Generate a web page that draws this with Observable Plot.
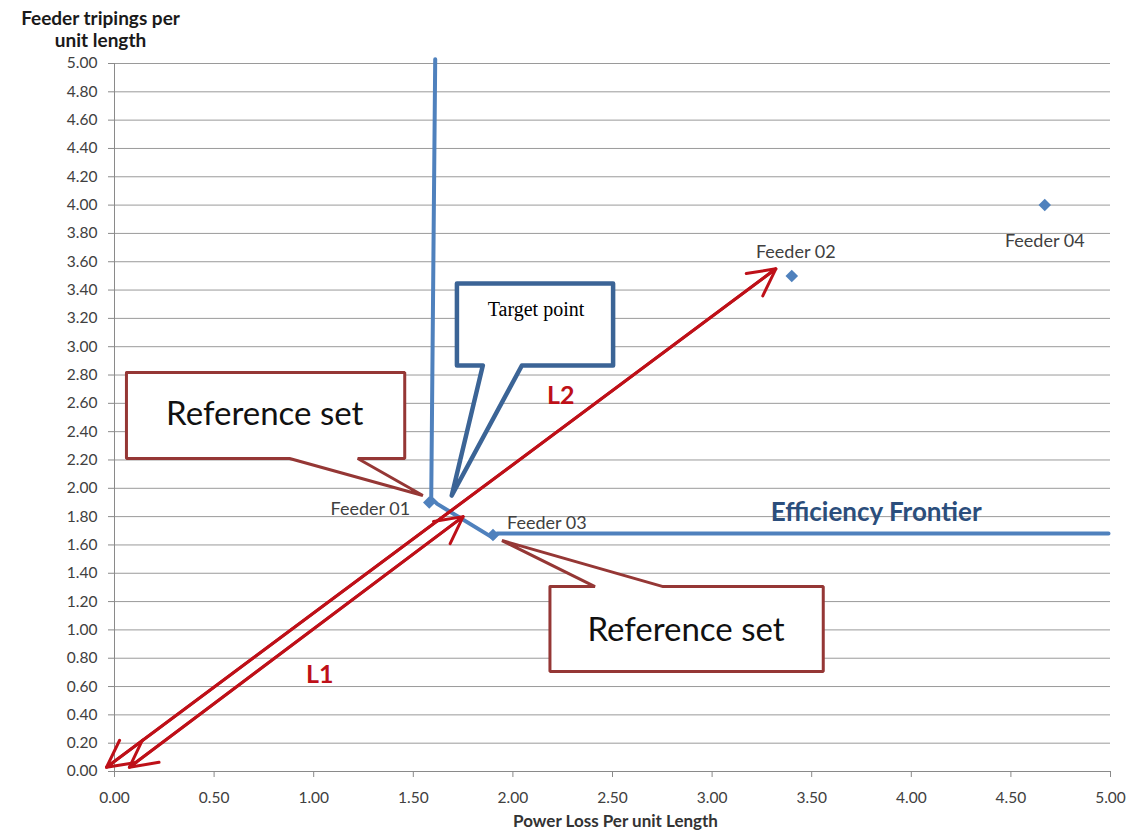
<!DOCTYPE html>
<html>
<head>
<meta charset="utf-8">
<script src="https://cdn.jsdelivr.net/npm/d3@7"></script>
<script src="https://cdn.jsdelivr.net/npm/@observablehq/plot@0.6"></script>
<style>
  html, body { margin: 0; padding: 0; background: #fff; }
  svg { display: block; }
</style>
</head>
<body>
<div id="chart"></div>
<script>
// ---- data ----
const feederNames = ["Feeder 01", "Feeder 02", "Feeder 03", "Feeder 04"];
const feederLoss = [1.58, 3.40, 1.90, 4.67];
const feederTrips = [1.90, 3.50, 1.67, 4.00];

const frontierLoss = [1.61, 1.59, 1.62, 1.90, 1.92, 4.99];
const frontierTrips = [5.03, 1.93, 1.89, 1.65, 1.68, 1.68];

// arrows L1 and L2 (double-headed)
const arrowNames = ["L1", "L2"];
const arrowStartX = [0.075, -0.04];
const arrowStartY = [0.03, 0.03];
const arrowEndX = [1.75, 3.32];
const arrowEndY = [1.80, 3.55];
const arrowLabelX = [1.03, 2.24];
const arrowLabelY = [0.68, 2.65];

// callout outlines (data coordinates)
const calloutTargetX = [1.719, 2.503, 2.503, 2.045, 1.693, 1.849, 1.719, 1.719];
const calloutTargetY = [3.446, 3.446, 2.867, 2.867, 1.949, 2.867, 2.867, 3.446];
const calloutRef1X = [0.060, 1.457, 1.457, 1.221, 1.548, 0.879, 0.060, 0.060];
const calloutRef1Y = [2.818, 2.818, 2.210, 2.210, 1.949, 2.210, 2.210, 2.818];
const calloutRef2X = [2.186, 2.412, 1.945, 2.754, 3.558, 3.558, 2.186, 2.186];
const calloutRef2Y = [1.306, 1.306, 1.631, 1.306, 1.306, 0.706, 0.706, 1.306];

const calloutText = ["Target point", "Reference set", "Reference set"];
const calloutTextX = [2.116, 0.754, 2.869];
const calloutTextY = [3.263, 2.521, 0.996];

const frontierLabel = "Efficiency Frontier";
const frontierLabelX = 3.824;
const frontierLabelY = 1.83;

const yTicks = d3.range(0, 26).map(i => +(i * 0.2).toFixed(2));
const xTicks = d3.range(0, 11).map(i => +(i * 0.5).toFixed(2));

const xTitle = "Power Loss Per unit Length";
const yTitle = "Feeder tripings per\nunit length";

// ---- build tables ----
const feeders = feederNames.map((n, i) => ({name: n, x: feederLoss[i], y: feederTrips[i]}));
const frontier = frontierLoss.map((x, i) => ({x, y: frontierTrips[i]}));
const arrows = arrowNames.map((n, i) => ({name: n, x1: arrowStartX[i], y1: arrowStartY[i], x2: arrowEndX[i], y2: arrowEndY[i], lx: arrowLabelX[i], ly: arrowLabelY[i]}));
const mkPoly = (id, xs, ys) => xs.map((x, i) => ({id, x, y: ys[i]}));
const targetPoly = mkPoly("target", calloutTargetX, calloutTargetY);
const refPolys = [...mkPoly("ref1", calloutRef1X, calloutRef1Y), ...mkPoly("ref2", calloutRef2X, calloutRef2Y)];
const callouts = calloutText.map((t, i) => ({t, x: calloutTextX[i], y: calloutTextY[i]}));

const sans = "Lato, 'Open Sans', sans-serif";
const red = "#be1018";
const blue = "#4f81bd";

const chart = Plot.plot({
  width: 1148,
  height: 839,
  marginLeft: 114,
  marginRight: 38,
  marginTop: 63,
  marginBottom: 68,
  style: {fontFamily: sans, background: "#fff", overflow: "visible"},
  x: {domain: [0, 5]},
  y: {domain: [0, 5]},
  marks: [
    Plot.gridY(yTicks, {stroke: "#9a9a9a", strokeOpacity: 1, strokeWidth: 1}),
    Plot.axisY(yTicks, {tickFormat: d3.format(".2f"), tickSize: 6, tickPadding: 11, fontSize: 15.5, color: "#404040", stroke: "#8a8a8a", label: null}),
    Plot.axisX(xTicks, {tickFormat: d3.format(".2f"), tickSize: 6, tickPadding: 14, fontSize: 15.5, color: "#404040", stroke: "#8a8a8a", label: null}),
    Plot.ruleX([0], {stroke: "#8a8a8a"}),
    Plot.ruleY([0], {stroke: "#8a8a8a"}),
    // efficiency frontier
    Plot.line(frontier, {x: "x", y: "y", stroke: blue, strokeWidth: 4, strokeLinejoin: "round", clip: false}),
    // arrows (double-headed)
    Plot.arrow(arrows, {x1: "x1", y1: "y1", x2: "x2", y2: "y2", stroke: red, strokeWidth: 3, headLength: 15, headAngle: 55}),
    Plot.arrow(arrows, {x1: "x2", y1: "y2", x2: "x1", y2: "y1", stroke: red, strokeWidth: 3, headLength: 15, headAngle: 55}),
    Plot.text(arrows, {x: "lx", y: "ly", text: "name", fill: red, fontSize: 25, fontWeight: "bold", fontFamily: sans}),
    // callouts
    Plot.line(refPolys, {x: "x", y: "y", z: "id", fill: "white", stroke: "#953735", strokeWidth: 3, strokeLinejoin: "miter"}),
    Plot.line(targetPoly, {x: "x", y: "y", fill: "white", stroke: "#3b6496", strokeWidth: 4.5, strokeLinejoin: "round"}),
    Plot.text(callouts.slice(0, 1), {x: "x", y: "y", text: "t", fontSize: 20, fontFamily: "'Liberation Serif', 'DejaVu Serif', serif", fill: "#000"}),
    Plot.text(callouts.slice(1), {x: "x", y: "y", text: "t", fontSize: 33, fontFamily: sans, fill: "#111"}),
    // feeder points
    Plot.dot(feeders, {x: "x", y: "y", symbol: "square", rotate: 45, fill: blue, r: 5}),
    Plot.text(feeders.filter(d => d.name === "Feeder 01"), {x: "x", y: "y", text: "name", textAnchor: "end", dx: -19, dy: 7, fontSize: 18, fill: "#404040"}),
    Plot.text(feeders.filter(d => d.name === "Feeder 02"), {x: "x", y: "y", text: "name", dx: 4, dy: -24, fontSize: 18, fill: "#404040"}),
    Plot.text(feeders.filter(d => d.name === "Feeder 03"), {x: "x", y: "y", text: "name", textAnchor: "start", dx: 14, dy: -12, fontSize: 18, fill: "#404040"}),
    Plot.text(feeders.filter(d => d.name === "Feeder 04"), {x: "x", y: "y", text: "name", dx: 0, dy: 36, fontSize: 18, fill: "#404040"}),
    // frontier label
    Plot.text([frontierLabel], {x: frontierLabelX, y: frontierLabelY, text: d => d, fontSize: 26, fontWeight: "bold", fill: "#2b4e7c"}),
    // axis titles
    Plot.text([yTitle], {frameAnchor: "top-left", text: d => d, dx: -14, dy: -55, lineAnchor: "top", textAnchor: "middle", lineHeight: 1.2, fontSize: 19, fontWeight: "bold", fill: "#1a1a1a"}),
    Plot.text([xTitle], {frameAnchor: "bottom", text: d => d, dx: 3, dy: 55, fontSize: 17, fontWeight: "bold", fill: "#333"})
  ]
});
document.getElementById("chart").appendChild(chart);
</script>
</body>
</html>
